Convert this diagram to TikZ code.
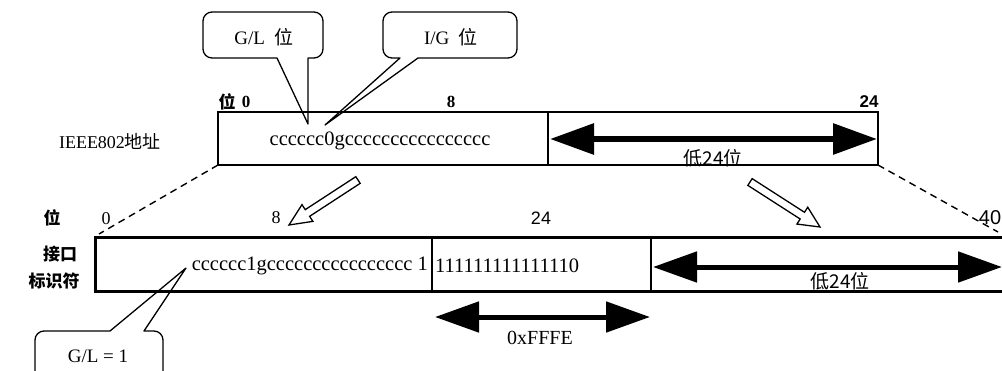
\documentclass[tikz,border=0pt]{standalone}
\usepackage{fontspec}
\setmainfont{Liberation Serif}
\newfontfamily\cjk{Noto Sans CJK SC}
\newfontfamily\sans{Liberation Sans}
\usetikzlibrary{arrows.meta}
\begin{document}
\begin{tikzpicture}[x=1pt,y=-1pt,
  txt/.style={inner sep=0pt, font=\fontsize{20.5}{20.5}\selectfont},
  lbl/.style={inner sep=0pt, font=\fontsize{19}{19}\selectfont},
  bits/.style={inner sep=0pt, font=\fontsize{17}{17}\selectfont\bfseries},
  sbits/.style={inner sep=0pt, font=\fontsize{17}{17}\selectfont\sans},
  cjklbl/.style={inner sep=0pt, font=\fontsize{17}{17}\selectfont\cjk\bfseries},
  lowlbl/.style={inner sep=0pt, font=\fontsize{19}{19}\selectfont\cjk},
  thinbox/.style={draw, line width=1.4pt},
  thickbox/.style={line width=3pt},
  divider/.style={line width=1.5pt},
  dbl/.style={line width=6pt, {Triangle[length=44pt,width=30pt]}-{Triangle[length=44pt,width=30pt]}},
  hollow/.style={draw, line width=1.3pt, fill=white, line join=miter},
  callout/.style={draw, line width=1.3pt, line join=round},
  dashline/.style={line width=1.4pt, dash pattern=on 7pt off 5pt}]
\useasboundingbox (0,0) rectangle (1002,370);
\fill[white] (0,0) rectangle (1002,370);

% ---------- top box ----------
\coordinate (ttl) at (218,112);
\coordinate (tbr) at (878,165);
\coordinate (tbl) at (218,165);
\coordinate (tdivt) at (548,112);
\coordinate (tdivb) at (548,165);
\draw[thinbox] (ttl) rectangle (tbr);
\draw[divider] (tdivt) -- (tdivb);
\node[txt] (ttext) at (380,141) {cccccc0gcccccccccccccccc};
\coordinate (tal) at (550,139);
\coordinate (tar) at (877,139);
\draw[dbl] (tal) -- (tar);
\node[lowlbl] (tlow) at (713,158) {低24位};

\node[cjklbl] (tbitw) at (227,102) {位};
\node[bits] (tb0) at (246,102) {0};
\node[bits] (tb8) at (451,102) {8};
\node[sbits, font=\fontsize{17}{17}\selectfont\sans\bfseries] (tb24) at (869,102) {24};
\node[lbl, font=\fontsize{18}{18}\selectfont] (ieee) at (110,141) {IEEE802{\cjk 地址}};

% ---------- callouts top ----------
\coordinate (gltip) at (308,124);
\draw[callout] (277,58) [rounded corners=9pt] -- (203,58) -- (203,12) -- (323,12) -- (323,58) [sharp corners] -- (308,58) -- (gltip) -- cycle;
\node[lbl] (gl) at (264,37) {G/L\ \ {\cjk 位}};

\coordinate (igtip) at (325,125);
\draw[callout] (400,58) [rounded corners=9pt] -- (383,58) -- (383,12) -- (517,12) -- (517,58) [sharp corners] -- (418,58) -- (igtip) -- cycle;
\node[lbl] (ig) at (451,37) {I/G\ \ {\cjk 位}};

% ---------- bottom box ----------
\coordinate (btl) at (95,237);
\coordinate (btr) at (1004,237);
\coordinate (bbl) at (95,291);
\coordinate (bbr) at (1004,291);
\draw[thickbox] (btr) -- (btl) -- (bbl) -- (bbr);
\coordinate (bd1t) at (432,237);
\coordinate (bd1b) at (432,291);
\coordinate (bd2t) at (651,237);
\coordinate (bd2b) at (651,291);
\draw[divider] (bd1t) -- (bd1b);
\draw[divider] (bd2t) -- (bd2b);
\node[txt, anchor=east] (btext) at (428,266) {cccccc1gcccccccccccccccc 1};
\node[txt, anchor=west] (bones) at (435,266) {111111111111110};
\coordinate (bal) at (653,267);
\coordinate (bar) at (1002,267);
\draw[dbl, line width=5pt] (bal) -- (bar);
\node[lowlbl] (blow) at (840,281) {低24位};
\coordinate (fal) at (435,317);
\coordinate (far) at (650,317);
\draw[dbl, line width=5pt] (fal) -- (far);
\node[lbl, font=\fontsize{20}{20}\selectfont] (ffe) at (540,338) {0xFFFE};

\node[cjklbl] (bbitw) at (52,218) {位};
\node[lbl, font=\fontsize{18}{18}\selectfont] (bb0) at (106,219) {0};
\node[lbl, font=\fontsize{18}{18}\selectfont] (bb8) at (276,218) {8};
\node[sbits, font=\fontsize{18}{18}\selectfont\sans] (bb24) at (541,218) {24};
\node[sbits, font=\fontsize{20}{20}\selectfont\sans] (bb40) at (990,218) {40};
\node[cjklbl] (jk) at (60,254) {接口};
\node[cjklbl] (bsf) at (54,281) {标识符};

% ---------- dashed lines ----------
\coordinate (dl) at (99,234);
\coordinate (dr) at (998,232);
\draw[dashline] (tbl) -- (dl);
\draw[dashline] (tbr) -- (dr);

% ---------- hollow arrows ----------
\draw[hollow] (360.18,183.35) -- (309.61,216.34) -- (312.89,221.36) -- (289,225) -- (301.97,204.62) -- (305.25,209.64) -- (355.82,176.65) -- cycle;
\draw[hollow] (747.84,185.37) -- (800.17,219.01) -- (796.92,224.05) -- (820,227) -- (807.74,207.23) -- (804.49,212.27) -- (752.16,178.63) -- cycle;

% ---------- bottom callout ----------
\coordinate (bgtip) at (186,268);
\draw[callout] (110,331) [rounded corners=9pt] -- (35,331) -- (35,390) -- (163,390) -- (163,331) [sharp corners] -- (144,331) -- (bgtip) -- cycle;
\node[lbl] (glone) at (98,356) {G/L = 1};
\end{tikzpicture}
\end{document}
